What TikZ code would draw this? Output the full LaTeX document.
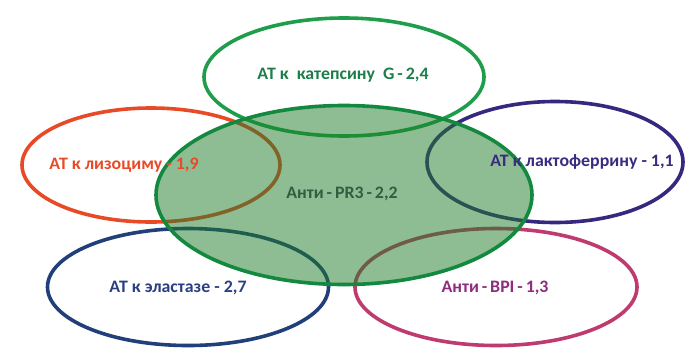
\documentclass[tikz,border=0pt]{standalone}
\usepackage{fontspec}
\setmainfont{Carlito}[FakeStretch=1.02]
\usetikzlibrary{shapes.geometric}
\definecolor{cTop}{RGB}{30,158,74}
\definecolor{cTopT}{RGB}{30,125,72}
\definecolor{cRed}{RGB}{232,74,39}
\definecolor{cPur}{RGB}{53,40,127}
\definecolor{cPurT}{RGB}{58,42,128}
\definecolor{cBlu}{RGB}{33,63,120}
\definecolor{cBluT}{RGB}{42,63,128}
\definecolor{cPnk}{RGB}{191,58,110}
\definecolor{cPnkT}{RGB}{142,44,128}
\definecolor{cBig}{RGB}{19,136,63}
\definecolor{cBigF}{RGB}{30,125,40}
\definecolor{cBigT}{RGB}{47,95,63}
\tikzset{
  oval/.style={ellipse, draw, line width=3.6pt, inner sep=0pt},
  lbl/.style={font=\fontsize{17.5}{20}\selectfont\bfseries, inner sep=0pt}
}
\begin{document}
\begin{tikzpicture}[x=1pt,y=-1pt]
\useasboundingbox[fill=white] (0,0) rectangle (685,354);
\node[oval, draw=cTop, minimum width=280, minimum height=118] (top) at (344,77) {};
\node[oval, draw=cRed, minimum width=258, minimum height=114] (lys) at (151,165) {};
\node[oval, draw=cPur, minimum width=256, minimum height=121] (lac) at (555,162) {};
\node[oval, draw=cBlu, minimum width=281, minimum height=117] (ela) at (188,287) {};
\node[oval, draw=cPnk, minimum width=282, minimum height=117] (bpi) at (496,287) {};
\node[oval, draw=cBig, fill=cBigF, fill opacity=0.5, minimum width=376, minimum height=179] (pr3) at (344,195) {};
\node[lbl, text=cTopT] (tTop) at (343,75) {АТ к\ \ катепсину\ \ G\,-\,2,4};
\node[lbl, text=cRed] (tLys) at (124,165) {АТ к лизоциму - 1,9};
\node[lbl, text=cPurT] (tLac) at (582,162) {АТ к лактоферрину - 1,1};
\node[lbl, text=cBluT] (tEla) at (178,288) {АТ к эластазе - 2,7};
\node[lbl, text=cPnkT] (tBpi) at (495,288) {Анти\,-\,BPI\,-\,1,3};
\node[lbl, text=cBigT] (tPr3) at (342,194) {Анти\,-\,PR3\,-\,2,2};
\end{tikzpicture}
\end{document}
